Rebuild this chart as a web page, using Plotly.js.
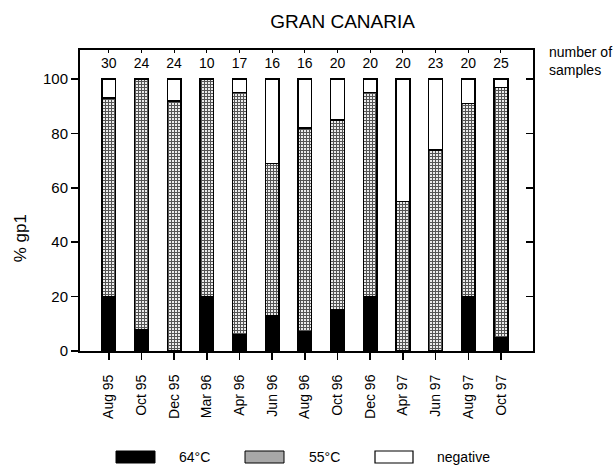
<!DOCTYPE html>
<html>
<head>
<meta charset="utf-8">
<script src="https://cdn.plot.ly/plotly-3.0.1.min.js"></script>
<style>html,body{margin:0;padding:0;background:#fff;}#chart{width:615px;height:466px;}</style>
</head>
<body>
<div id="chart"></div>
<script>
const categories = ['Aug 95','Oct 95','Dec 95','Mar 96','Apr 96','Jun 96','Aug 96','Oct 96','Dec 96','Apr 97','Jun 97','Aug 97','Oct 97'];
const samples = [30,24,24,10,17,16,16,20,20,20,23,20,25];
const pct64 = [20,8,0,20,6,13,7,15,20,0,0,20,5];
const pct55 = [73,92,92,80,89,56,75,70,75,55,74,71,92];
const pctNeg = [7,0,8,0,5,31,18,15,5,45,26,9,3];
const yTicks = [0,20,40,60,80,100];

const FONT = 'Liberation Sans, Arial, Helvetica, sans-serif';
const LABEL_Y = 105.5;
const XR = [-0.88, 12.98];
const YR = [0, 110.7];

const outline = {color:'#000', width:1.5};
const traces = [
  {type:'bar', name:'64°C', x:categories, y:pct64, width:0.42,
   marker:{color:'#000', line:outline}, showlegend:false, hoverinfo:'skip'},
  {type:'bar', name:'55°C', x:categories, y:pct55, width:0.42,
   marker:{color:'#fff', line:outline,
           pattern:{shape:'+', size:3, solidity:0.6, fgcolor:'#555', bgcolor:'#f4f4f4', fillmode:'replace'}},
   showlegend:false, hoverinfo:'skip'},
  {type:'bar', name:'negative', x:categories, y:pctNeg, width:0.42,
   marker:{color:'#fff', line:outline}, showlegend:false, hoverinfo:'skip'},
  {type:'scatter', mode:'text', x:categories, y:categories.map(()=>LABEL_Y),
   text:samples.map(String), textposition:'middle center',
   textfont:{family:FONT, size:14, color:'#000'},
   xaxis:'x2', yaxis:'y2', showlegend:false, hoverinfo:'skip'}
];

const axLine = {showline:true, linecolor:'#000', linewidth:2};
const layout = {
  width:615, height:466,
  margin:{l:80, r:82, t:50, b:115},
  paper_bgcolor:'#fff', plot_bgcolor:'#fff',
  barmode:'stack',
  showlegend:false,
  font:{family:FONT, color:'#000'},
  title:{text:'GRAN CANARIA', x:0.557, xanchor:'center', y:0.955, yanchor:'middle',
         font:{family:FONT, size:19, color:'#000'}},
  xaxis:Object.assign({}, axLine, {
    type:'category', categoryorder:'array', categoryarray:categories,
    range:XR, ticks:'outside', ticklen:7, tickwidth:1.5, tickcolor:'#000',
    tickangle:-90, tickfont:{family:FONT, size:14, color:'#000'},
    ticklabelstandoff:9, showgrid:false, zeroline:false, fixedrange:true
  }),
  yaxis:Object.assign({}, axLine, {
    range:YR, tickvals:yTicks, ticktext:yTicks.map(String),
    ticks:'outside', ticklen:7, tickwidth:1.5, tickcolor:'#000',
    tickfont:{family:FONT, size:15, color:'#000'}, ticklabelstandoff:0,
    showgrid:false, zeroline:false, fixedrange:true
  }),
  xaxis2:Object.assign({}, axLine, {
    type:'category', categoryorder:'array', categoryarray:categories,
    overlaying:'x', side:'top', range:XR, ticks:'inside', ticklen:3, tickwidth:1,
    tickcolor:'#000', showticklabels:false, showgrid:false, zeroline:false, fixedrange:true
  }),
  yaxis2:Object.assign({}, axLine, {
    overlaying:'y', side:'right', range:YR, tickvals:yTicks,
    ticks:'inside', ticklen:7, tickwidth:1.5, tickcolor:'#000',
    showticklabels:false, showgrid:false, zeroline:false, fixedrange:true
  }),
  annotations:[
    {text:'% gp1', xref:'paper', yref:'paper', x:-0.132, y:0.375, textangle:-90,
     showarrow:false, xanchor:'center', yanchor:'middle', font:{family:FONT, size:17, color:'#000'}},
    {text:'number of<br>samples', xref:'paper', yref:'paper', x:1.031, y:1.025,
     showarrow:false, xanchor:'left', yanchor:'top', align:'left',
     font:{family:FONT, size:14, color:'#000'}},
    {text:'64°C', xref:'paper', yref:'paper', x:(177-80)/453, y:(351-457)/301,
     showarrow:false, xanchor:'left', yanchor:'middle', font:{family:FONT, size:14, color:'#000'}},
    {text:'55°C', xref:'paper', yref:'paper', x:(307-80)/453, y:(351-457)/301,
     showarrow:false, xanchor:'left', yanchor:'middle', font:{family:FONT, size:14, color:'#000'}},
    {text:'negative', xref:'paper', yref:'paper', x:(435-80)/453, y:(351-457)/301,
     showarrow:false, xanchor:'left', yanchor:'middle', font:{family:FONT, size:14, color:'#000'}}
  ],
  shapes:[
    {type:'rect', xref:'paper', yref:'paper', x0:(116-80)/453, x1:(155-80)/453,
     y0:(351-463)/301, y1:(351-451)/301, fillcolor:'#000', line:{color:'#000', width:1}},
    {type:'rect', xref:'paper', yref:'paper', x0:(245-80)/453, x1:(284-80)/453,
     y0:(351-463)/301, y1:(351-451)/301, fillcolor:'#a8a8a8', line:{color:'#000', width:1}},
    {type:'rect', xref:'paper', yref:'paper', x0:(375-80)/453, x1:(413-80)/453,
     y0:(351-463)/301, y1:(351-451)/301, fillcolor:'#fff', line:{color:'#000', width:1.2}}
  ]
};

Plotly.newPlot('chart', traces, layout, {staticPlot:true, displayModeBar:false});
</script>
</body>
</html>
